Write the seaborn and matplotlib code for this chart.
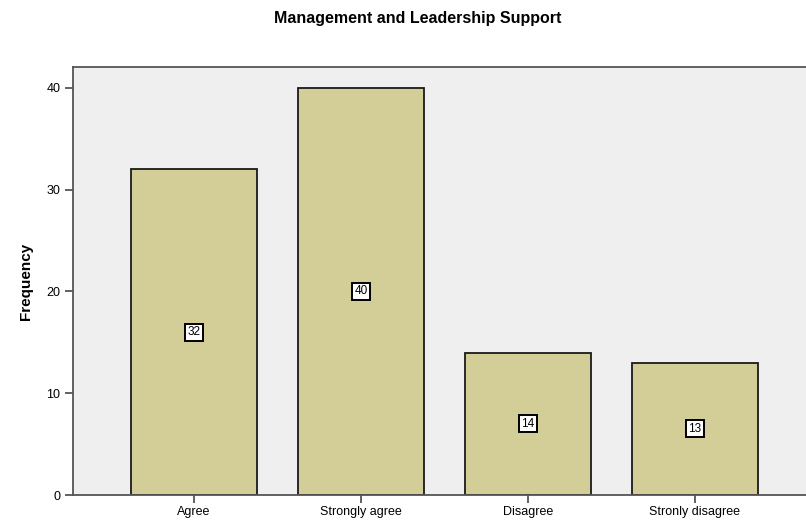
import matplotlib
matplotlib.use("Agg")
import matplotlib.pyplot as plt
import seaborn as sns
import pandas as pd

categories = ["Agree", "Strongly agree", "Disagree", "Stronly disagree"]
frequencies = [32, 40, 14, 13]
y_ticks = [0, 10, 20, 30, 40]

df = pd.DataFrame({"response": categories, "freq": frequencies})

sns.set_style("white")
plt.rcParams["font.family"] = ["Liberation Sans", "DejaVu Sans"]
plt.rcParams["text.color"] = "black"
plt.rcParams["axes.labelcolor"] = "black"
plt.rcParams["xtick.color"] = "black"
plt.rcParams["ytick.color"] = "black"

fig = plt.figure(figsize=(8.06, 5.25), dpi=100)
ax = fig.add_axes([73 / 806, 30 / 525, 1 - 73 / 806, 428 / 525])
ax.set_facecolor("#EFEFEF")

sns.barplot(data=df, x="response", y="freq", order=categories, color="#D3CD98",
            saturation=1, width=0.755, edgecolor="#1a1a1a", linewidth=1.3, ax=ax)

for i, v in enumerate(frequencies):
    ax.text(i, v / 2, str(v), ha="center", va="center", fontsize=8.5, color="black",
            bbox=dict(boxstyle="square,pad=0.22", facecolor="white", edgecolor="black", linewidth=1.4))

ax.set_xlim(-0.725, 3.665)
ax.set_ylim(0, 42.06)
ax.set_yticks(y_ticks)
ax.set_yticklabels([str(t) for t in y_ticks], fontsize=9)
ax.tick_params(axis="both", left=True, bottom=True, direction="out", length=6, width=1.3,
               color="#555555", labelcolor="black", labelsize=9, pad=3)
ax.tick_params(axis="x", pad=2)

for side in ["left", "bottom", "top"]:
    ax.spines[side].set_color("#555555")
    ax.spines[side].set_linewidth(1.3)
ax.spines["right"].set_visible(False)

ax.set_xlabel("")
ax.set_ylabel("Frequency", fontsize=11, fontweight="bold", labelpad=10, color="black")
fig.text(418 / 806, 1 - 18 / 525, "Management and Leadership Support", ha="center", va="center",
         fontsize=11.5, fontweight="bold", color="black")

fig.savefig("out.png", dpi=100)
